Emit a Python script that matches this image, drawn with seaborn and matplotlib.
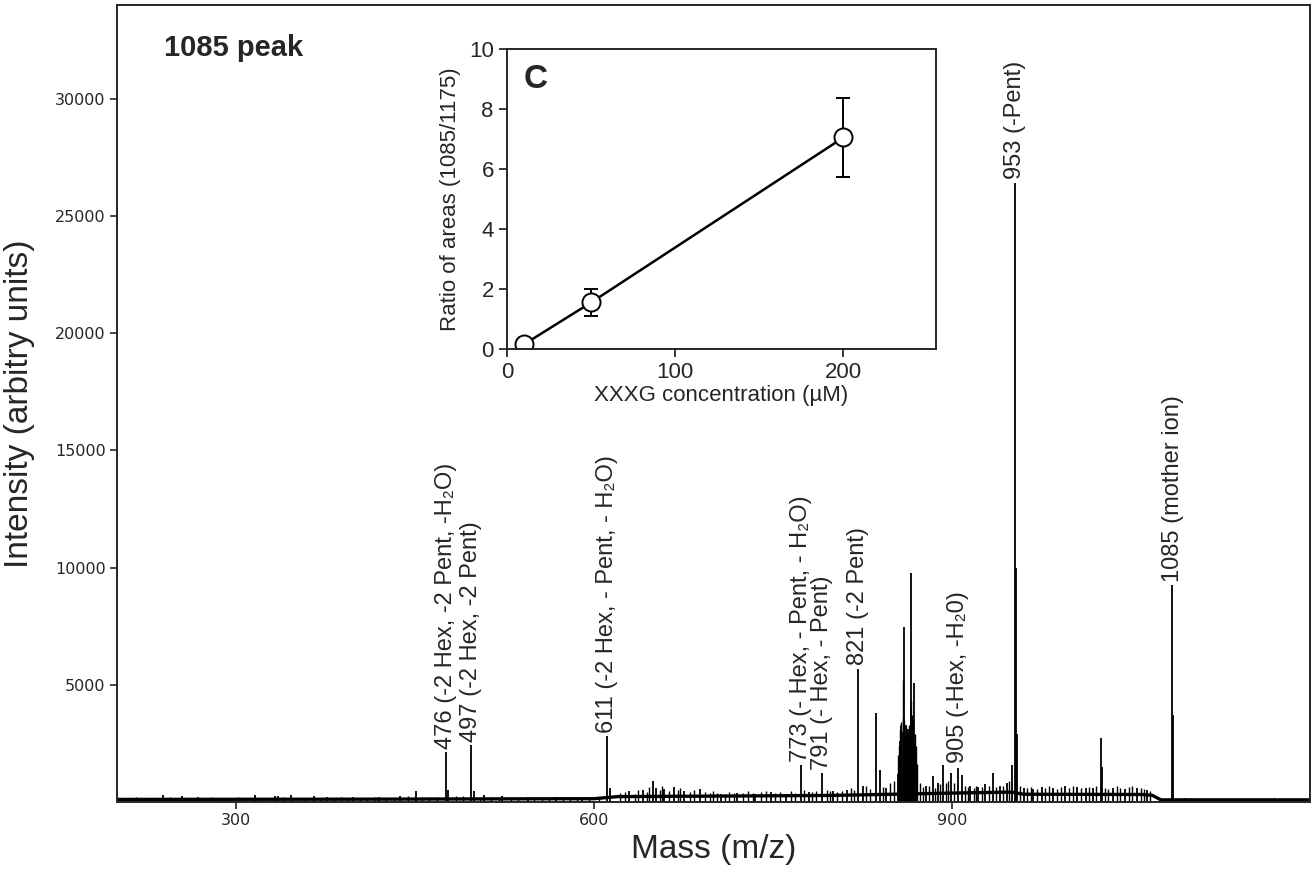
import matplotlib
matplotlib.use("Agg")
import matplotlib.pyplot as plt
import seaborn as sns
import pandas as pd

# ---------------- data ----------------
# main stick peaks of the MS/MS spectrum (m/z, intensity)
peak_mz = [239, 255, 268, 290, 316, 333, 335, 346, 365, 376, 398, 420, 437, 451,
           476, 478, 497, 499, 508, 523, 545, 568, 590, 611, 613,
           629, 641, 649, 652, 659, 667, 675, 689, 706, 720, 735, 748, 761,
           773, 780, 791, 800, 812, 821, 825, 836.5, 839.6, 845,
           855, 856, 857, 858, 859.7, 860.5, 861.5, 862.5, 863.5, 864.3, 865.2,
           866, 867, 868.3, 869, 870, 871,
           878, 884, 888, 892.6, 899, 905.2, 908, 915, 922, 928, 934.5, 940, 946, 950,
           952.7, 953.6, 954.5, 960, 968, 975, 985, 995, 1005, 1012, 1018,
           1024.5, 1025.5, 1035, 1045, 1055, 1063,
           1084.5, 1085.5, 1095, 1110, 1130, 1150, 1170, 1185]
peak_int = [300, 250, 200, 190, 280, 260, 265, 280, 245, 220, 210, 200, 265, 470,
            2150, 500, 2450, 450, 280, 245, 230, 220, 230, 2800, 600,
            460, 530, 880, 600, 570, 640, 450, 550, 340, 380, 360, 420, 360,
            1560, 420, 1240, 480, 520, 5680, 700, 3790, 1350, 600,
            1200, 2600, 3300, 3000, 7480, 2800, 3300, 2500, 3100, 2900, 9760,
            4000, 3500, 5070, 2600, 2000, 1200,
            700, 1100, 800, 1590, 1240, 1450, 1170, 700, 650, 750, 1240, 700, 800, 1560,
            26400, 10000, 2900, 600, 550, 650, 600, 700, 650, 600, 600,
            2740, 1500, 600, 550, 600, 500,
            9250, 3700, 150, 130, 140, 130, 150, 120]

# small noise sticks read along the baseline
noise_mz = [204, 210, 216, 222, 228, 234, 245, 250, 262, 274, 280, 286, 296, 302,
            308, 322, 328, 340, 352, 358, 370, 382, 388, 394, 404, 410, 416, 426,
            432, 444, 456, 462, 468, 484, 490, 504, 514, 520, 530, 536, 550, 556,
            562, 574, 580, 586, 596, 604,
            622, 626, 634, 637, 644, 646, 655, 657, 663, 670, 672, 680, 684, 693,
            697, 700, 703, 710, 713, 717, 725, 729, 733, 740, 744, 752, 756, 765,
            768, 776, 783, 786, 795, 798, 804, 808, 815, 818, 828, 831, 842, 848, 851,
            854.5, 855.5, 856.5, 857.5, 858.5, 859.2, 860, 861, 862, 863, 864,
            864.8, 865.7, 866.5, 867.5, 868.8, 869.5, 870.5,
            873, 876, 881, 886, 890, 895, 897, 902, 911, 913, 918, 920, 925, 931,
            937, 943, 948,
            957, 963, 966, 971, 978, 981, 988, 991, 998, 1001, 1008, 1015, 1021,
            1028, 1031, 1038, 1041, 1048, 1051, 1058, 1061, 1066,
            1078, 1090, 1100, 1105, 1120, 1125, 1140, 1160, 1165, 1178, 1190, 1195]
noise_int = [180, 150, 200, 170, 160, 190, 210, 170, 180, 160, 200, 170, 150, 210,
             180, 170, 160, 200, 190, 150, 180, 170, 200, 160, 190, 170, 220, 180,
             160, 250, 230, 200, 210, 260, 240, 230, 210, 190, 200, 180, 190, 210,
             170, 190, 200, 180, 170, 190,
             380, 420, 350, 500, 420, 650, 520, 700, 480, 520, 600, 430, 500, 420,
             380, 470, 400, 360, 420, 380, 400, 450, 380, 430, 470, 380, 420, 450,
             400, 520, 430, 460, 500, 450, 430, 480, 600, 520, 700, 560, 650, 800, 900,
             2000, 2400, 3100, 3400, 3600, 5200, 3500, 3200, 3000, 2800, 3300,
             3100, 4300, 3700, 3300, 2900, 2400, 1600,
             800, 650, 700, 600, 750, 800, 900, 800, 700, 650, 600, 700, 650, 700,
             650, 700, 900,
             700, 600, 650, 550, 600, 700, 550, 650, 600, 700, 600, 650, 700,
             600, 550, 700, 600, 650, 700, 600, 550, 450,
             120, 180, 160, 130, 140, 150, 120, 130, 150, 120, 130, 140]

# slowly varying baseline level (m/z, intensity)
base_mz = [200, 400, 600, 620, 700, 800, 850, 900, 950, 960, 1060, 1068, 1075, 1200]
base_int = [110, 120, 140, 230, 250, 280, 330, 380, 420, 330, 320, 280, 90, 90]

# annotations
label_mz = [476, 497, 611, 773, 791, 821, 905, 953, 1085]
label_y = [2250, 2550, 2950, 1700, 1350, 5850, 1650, 26600, 9400]
label_text = ["476 (-2 Hex, -2 Pent, -H\u2082O)",
              "497 (-2 Hex, -2 Pent)",
              "611 (-2 Hex, - Pent, - H\u2082O)",
              "773 (- Hex, - Pent, - H\u2082O)",
              "791 (- Hex, - Pent)",
              "821 (-2 Pent)",
              "905 (-Hex, -H\u20820)",
              "953 (-Pent)",
              "1085 (mother ion)"]

x_ticks = [300, 600, 900]
y_ticks = [5000, 10000, 15000, 20000, 25000, 30000]

# inset data
conc = [10, 50, 200]
ratio = [0.15, 1.55, 7.05]
ratio_err = [0.05, 0.45, 1.32]

# ---------------- plot ----------------
sns.set_style("ticks")
FONT = ["Liberation Sans", "DejaVu Sans"]
plt.rcParams["font.family"] = FONT

fig = plt.figure(figsize=(13.12, 8.76), dpi=100)
ax = fig.add_axes([0.089, 0.0845, 0.9095, 0.9095])

sns.lineplot(x=base_mz, y=base_int, ax=ax, color="black", lw=2.4, estimator=None)
ax.vlines(noise_mz, 0, noise_int, color="black", lw=1.0)
ax.vlines(peak_mz, 0, peak_int, color="black", lw=1.3)

ax.set_xlim(200, 1200)
ax.set_ylim(0, 34000)
ax.set_xticks(x_ticks)
ax.set_xticklabels([str(t) for t in x_ticks], fontsize=11.5, family="DejaVu Sans")
ax.set_yticks(y_ticks)
ax.set_yticklabels([str(t) for t in y_ticks], fontsize=11.5, family="DejaVu Sans")
ax.tick_params(direction="out", length=5, width=1.2, pad=3)
for s in ax.spines.values():
    s.set_linewidth(1.4)
    s.set_visible(True)
ax.set_xlabel("Mass (m/z)", fontsize=24, labelpad=4)
ax.set_ylabel("Intensity (arbitry units)", fontsize=24, labelpad=14)

for mz, yy, t in zip(label_mz, label_y, label_text):
    ax.text(mz, yy, t, rotation=90, ha="center", va="bottom", fontsize=17, family=FONT)

ax.text(0.04, 0.946, "1085 peak", transform=ax.transAxes, fontsize=21,
        fontweight="bold", ha="left", va="center")

# inset
axi = fig.add_axes([0.3864, 0.6016, 0.327, 0.3425])
axi.errorbar(conc, ratio, yerr=ratio_err, fmt="none", ecolor="black",
             elinewidth=1.4, capsize=5, capthick=1.4, zorder=1)
sns.lineplot(x=conc, y=ratio, ax=axi, color="black", lw=1.8, marker="o",
             markersize=13, markerfacecolor="white", markeredgecolor="black",
             markeredgewidth=1.4, zorder=2, estimator=None)
axi.set_xlim(0, 255)
axi.set_ylim(0, 10)
axi.set_xticks([0, 100, 200])
axi.set_yticks([0, 2, 4, 6, 8, 10])
axi.tick_params(direction="out", length=6, width=1.3, labelsize=16)
for s in axi.spines.values():
    s.set_linewidth(1.4)
    s.set_visible(True)
axi.set_xlabel("XXXG concentration (\u00b5M)", fontsize=16, labelpad=1)
axi.set_ylabel("Ratio of areas (1085/1175)", fontsize=16, labelpad=6)
axi.text(0.04, 0.95, "C", transform=axi.transAxes, fontsize=24,
         fontweight="bold", ha="left", va="top")

fig.savefig("out.png", dpi=100)
